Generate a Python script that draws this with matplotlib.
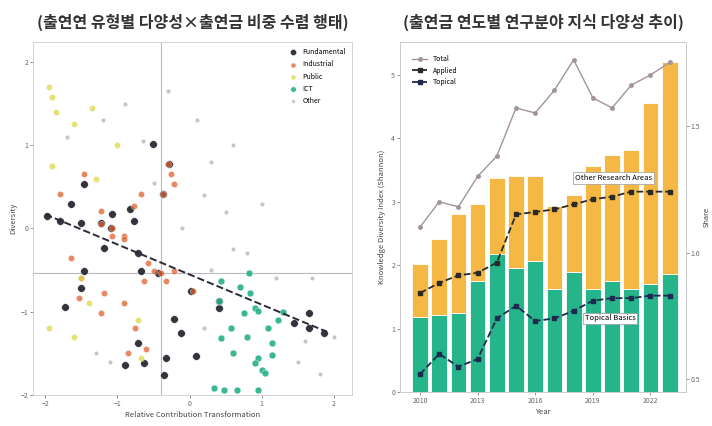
import numpy as np
import matplotlib.pyplot as plt

plt.rcParams['font.family'] = ['Noto Sans CJK KR', 'DejaVu Sans']

# 왼쪽: 유형별 산점도 (x, y)
fund_x = [-0.51, -0.29, -1.47, -1.65, -1.98, -1.79, -1.51, -1.23, -1.07, -1.09, -0.82, -0.77, -0.37,
          -0.90, -0.63, -0.72, -0.36, -0.33, -0.22, -0.12, 0.09, 0.02, 0.41, 0.41, 1.44, 1.65, 1.65, 1.86,
          -1.72, -1.51, -1.47, -1.19, -0.72, -0.68, -0.44]
fund_y = [1.01, 0.77, 0.53, 0.29, 0.15, 0.09, 0.07, 0.07, 0.17, 0.01, 0.24, 0.09, 0.41,
          -1.64, -1.61, -1.38, -1.76, -1.55, -1.09, -1.26, -1.53, -0.75, -0.96, -0.87, -1.14, -1.01, -1.20, -1.26,
          -0.94, -0.71, -0.51, -0.24, -0.30, -0.51, -0.53]
ind_x = [-0.30, -0.26, -0.37, -0.68, -0.77, -1.23, -1.23, -1.07, -0.91, -1.79, -1.47, -0.22, -1.07, -0.91,
         -0.58, -0.49, -0.63, -0.40, -0.22, -0.33, 0.05, -1.65, -1.51, -1.19, -0.91, -1.23, -1.53, -0.75, -0.60, -0.85]
ind_y = [0.77, 0.66, 0.41, 0.41, 0.27, 0.21, 0.05, 0.01, -0.09, 0.41, 0.66, 0.53, -0.09, -0.13,
         -0.41, -0.51, -0.63, -0.54, -0.51, -0.63, -0.75, -0.35, -0.60, -0.77, -0.89, -1.01, -0.84, -1.20, -1.45, -1.50]
pub_x = [-1.95, -1.90, -1.85, -1.35, -1.60, -1.90, -1.30, -0.72, -0.68, -1.95, -1.50, -1.60, -1.00, -1.40]
pub_y = [1.70, 1.58, 1.40, 1.45, 1.25, 0.75, 0.60, -1.10, -1.55, -1.20, -0.60, -1.30, 1.00, -0.90]
ict_x = [0.44, 0.41, 0.83, 0.90, 0.76, 0.95, 1.09, 1.23, 0.95, 1.00, 0.90, 1.04, 0.34, 0.48, 0.65, 0.95,
         0.58, 0.44, 1.14, 1.14, 0.82, 0.70, 0.60, 1.30, 0.80]
ict_y = [-0.63, -0.87, -0.77, -0.95, -1.01, -0.99, -1.20, -1.10, -1.56, -1.70, -1.61, -1.74, -1.92, -1.94, -1.94, -1.94,
         -1.20, -1.32, -1.38, -1.52, -0.53, -0.70, -1.50, -1.00, -1.30]
oth_x = [-1.2, -0.65, -0.3, 0.6, 0.3, -0.5, 0.2, 0.5, -0.1, 0.8, 1.2, 1.7, 2.0, 1.5, 1.8, 0.2, -1.3, -1.1,
         0.3, -0.9, 0.1, 1.0, -1.7, 1.6, 0.6]
oth_y = [1.3, 1.05, 1.65, 1.0, 0.8, 0.55, 0.4, 0.2, 0.0, -0.3, -0.6, -0.6, -1.3, -1.6, -1.75, -1.2, -1.5, -1.6,
         -0.5, 1.5, 1.3, 0.3, 1.1, -1.35, -0.25]
trend_x = [-2.0, 1.9]
trend_y = [0.17, -1.24]
ref_x, ref_y = -0.40, -0.53

# 오른쪽: 연도별 막대 + 다양성 선
years = list(range(2010, 2024))
basic = [1.19, 1.22, 1.24, 1.75, 2.17, 1.95, 2.06, 1.63, 1.90, 1.62, 1.75, 1.62, 1.70, 1.86]
total = [2.02, 2.41, 2.81, 2.97, 3.37, 3.40, 3.40, 2.94, 3.10, 3.57, 3.73, 3.81, 4.56, 5.21]
other = [t - b for t, b in zip(total, basic)]
div_total = [1.10, 1.20, 1.18, 1.30, 1.38, 1.57, 1.55, 1.64, 1.76, 1.61, 1.57, 1.66, 1.70, 1.75]
div_applied = [0.84, 0.88, 0.91, 0.92, 0.96, 1.15, 1.16, 1.17, 1.19, 1.21, 1.22, 1.24, 1.24, 1.24]
div_topical = [0.52, 0.60, 0.55, 0.58, 0.74, 0.79, 0.73, 0.74, 0.77, 0.81, 0.82, 0.82, 0.83, 0.83]

fig = plt.figure(figsize=(7.12, 4.26), dpi=100)
ax1 = fig.add_axes([33 / 712, 31 / 426, 319 / 712, 353 / 426])
ax2 = fig.add_axes([400 / 712, 34 / 426, 286 / 712, 350 / 426])

# ---- 왼쪽 패널
groups = [
    (fund_x, fund_y, '#1e1e2a', 'Fundamental', 30, 0.9),
    (ind_x, ind_y, '#e0602f', 'Industrial', 20, 0.75),
    (pub_x, pub_y, '#dcd84a', 'Public', 20, 0.75),
    (ict_x, ict_y, '#25b088', 'ICT', 24, 0.9),
    (oth_x, oth_y, '#a0a0a0', 'Other', 10, 0.6),
]
for gx, gy, c, name, s, a in groups:
    ax1.scatter(gx, gy, s=s, color=c, alpha=a, edgecolor='white', linewidth=0.3, label=name, zorder=3)

ax1.plot(trend_x, trend_y, ls='--', color='#2a2a3a', lw=1.4, zorder=4)
ax1.axhline(ref_y, color='#bbbbbb', lw=0.8, zorder=1)
ax1.axvline(ref_x, color='#bbbbbb', lw=0.8, zorder=1)

ax1.set_xlim(-2.17, 2.25)
ax1.set_ylim(-1.98, 2.24)
ax1.set_xticks([-2, -1, 0, 1, 2])
ax1.set_yticks([-2, -1, 0, 1, 2])
ax1.set_xlabel('Relative Contribution Transformation', fontsize=5.5, color='#444444', labelpad=2)
ax1.set_ylabel('Diversity', fontsize=5.5, color='#444444', labelpad=2)
ax1.legend(loc='upper right', fontsize=5, frameon=False, markerscale=0.8, handletextpad=0.3, labelspacing=0.6)
ax1.set_title('(출연연 유형별 다양성×출연금 비중 수렴 행태)', fontsize=11.5, fontweight='bold',
              color='#333333', pad=10)

# ---- 오른쪽 패널
ax2.bar(years, basic, width=0.82, color='#26b58a', edgecolor='white', linewidth=0.6, zorder=2)
ax2.bar(years, other, bottom=basic, width=0.82, color='#f6b845', edgecolor='white', linewidth=0.6, zorder=2)
ax2.set_xlim(2008.96, 2023.85)
ax2.set_ylim(0, 5.52)
ax2.set_xticks([2010, 2013, 2016, 2019, 2022])
ax2.set_yticks([0, 1, 2, 3, 4, 5])
ax2.set_xlabel('Year', fontsize=5.5, color='#444444', labelpad=2)
ax2.set_ylabel('Knowledge Diversity Index (Shannon)', fontsize=5.5, color='#444444', labelpad=4)
ax2.text(2020.1, 3.37, 'Other Research Areas', fontsize=5.5, ha='center', va='center', zorder=6,
         bbox=dict(boxstyle='square,pad=0.25', fc='white', ec='#999999', lw=0.5))
ax2.text(2019.9, 1.16, 'Topical Basics', fontsize=5.5, ha='center', va='center', zorder=6,
         bbox=dict(boxstyle='square,pad=0.25', fc='white', ec='#999999', lw=0.5))
ax2.set_title('(출연금 연도별 연구분야 지식 다양성 추이)', fontsize=11.5, fontweight='bold',
              color='#333333', pad=10)

tw = ax2.twinx()
tw.plot(years, div_total, color='#a3939b', lw=1.0, marker='o', ms=2.5, label='Total')
tw.plot(years, div_applied, color='#2a2a2a', lw=1.3, ls='--', marker='s', ms=2.5, label='Applied')
tw.plot(years, div_topical, color='#1f2850', lw=1.3, ls='--', marker='s', ms=2.5, label='Topical')
tw.set_ylim(0.45, 1.83)
tw.set_yticks([0.5, 1.0, 1.5])
tw.set_ylabel('Share', fontsize=5, color='#444444', family='DejaVu Sans')
tw.yaxis.set_label_coords(1.06, 0.5)
tw.legend(loc='upper left', fontsize=5, frameon=False, handlelength=2.2, bbox_to_anchor=(0.02, 0.98))

for ax in (ax1, ax2, tw):
    ax.tick_params(labelsize=5, colors='#666666', length=2, width=0.5, pad=1.5)
    for sp in ax.spines.values():
        sp.set_color('#cccccc')
        sp.set_linewidth(0.6)

fig.savefig('out.png', dpi=100)
